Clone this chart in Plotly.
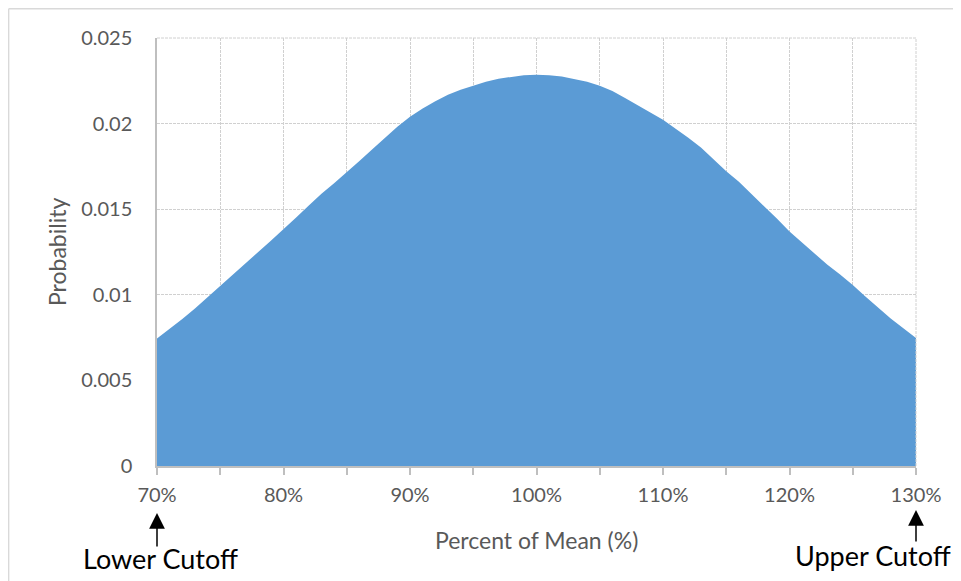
import plotly.graph_objects as go

# Data
percent_of_mean = list(range(70, 131))
probability = [
    0.00745, 0.00800, 0.00858, 0.00920, 0.00985, 0.01050, 0.01118, 0.01185, 0.01250, 0.01316,
    0.01382, 0.01452, 0.01522, 0.01590, 0.01652, 0.01715, 0.01782, 0.01848, 0.01915, 0.01982,
    0.02040, 0.02088, 0.02130, 0.02168, 0.02198, 0.02222, 0.02245, 0.02262, 0.02272, 0.02283,
    0.02285, 0.02283, 0.02275, 0.02262, 0.02245, 0.02221, 0.02190, 0.02150, 0.02110, 0.02065,
    0.02022, 0.01972, 0.01918, 0.01860, 0.01790, 0.01722, 0.01660, 0.01590, 0.01518, 0.01445,
    0.01370, 0.01305, 0.01240, 0.01175, 0.01118, 0.01057, 0.00990, 0.00925, 0.00862, 0.00805,
    0.00747,
]
x_tick_vals = list(range(70, 131, 5))
x_tick_text = [f"{v}%" if v % 10 == 0 else "" for v in x_tick_vals]
y_tick_vals = [0, 0.005, 0.01, 0.015, 0.02, 0.025]
y_tick_text = ["0", "0.005", "0.01", "0.015", "0.02", "0.025"]

FONT = "Lato, 'Open Sans', sans-serif"
GRAY_TXT = "#595959"
GRID = "#d0d0d0"
AXIS = "#bfbfbf"

fig = go.Figure()
fig.add_trace(go.Scatter(
    x=percent_of_mean, y=probability, mode="lines",
    fill="tozeroy", fillcolor="#5B9BD5",
    line=dict(width=0, color="#5B9BD5"),
    hoverinfo="x+y", showlegend=False,
))

# the page body has an 8px margin, so the figure is sized to fit inside the window
fig.update_layout(
    width=953, height=573,
    margin=dict(l=149, r=45, t=30, b=115),
    paper_bgcolor="white", plot_bgcolor="white",
    font=dict(family=FONT, color=GRAY_TXT, size=20),
    xaxis=dict(
        range=[70, 130], tickvals=x_tick_vals, ticktext=x_tick_text,
        showgrid=True, gridcolor=GRID, griddash="3px,1px", gridwidth=1,
        showline=True, linecolor=AXIS, linewidth=1.5,
        ticks="outside", ticklen=7, tickcolor=AXIS, tickwidth=1.5,
        tickfont=dict(size=20, color=GRAY_TXT), ticklabelstandoff=3,
        zeroline=False,
    ),
    yaxis=dict(
        range=[0, 0.025], tickvals=y_tick_vals, ticktext=y_tick_text,
        showgrid=True, gridcolor=GRID, griddash="3px,1px", gridwidth=1,
        showline=True, linecolor=AXIS, linewidth=1.5,
        ticks="", tickfont=dict(size=20, color=GRAY_TXT), ticklabelstandoff=19,
        zeroline=False,
    ),
)

# axis titles
fig.add_annotation(x=100, xref="x", y=0, yref="paper", yshift=-74, text="Percent of Mean (%)",
                   showarrow=False, font=dict(family=FONT, size=23, color=GRAY_TXT),
                   xanchor="center", yanchor="middle")
fig.add_annotation(x=0, xref="paper", xshift=-100, y=0.5, yref="paper", text="Probability",
                   textangle=-90, showarrow=False, font=dict(family=FONT, size=23, color=GRAY_TXT),
                   xanchor="center", yanchor="middle")

# dashed top border and right border of the plot area (grid-like)
fig.add_shape(type="line", xref="paper", yref="paper", x0=0, x1=1, y0=1, y1=1,
              line=dict(color=GRID, width=1, dash="3px,1px"))
fig.add_shape(type="line", xref="paper", yref="paper", x0=1, x1=1, y0=0, y1=1,
              line=dict(color=GRID, width=1, dash="3px,1px"))

# outer chart frame (left and top visible)
fig.add_shape(type="line", xref="paper", yref="paper", x0=-0.1955, x1=1.06, y0=1.0685, y1=1.0685,
              line=dict(color="#d9d9d9", width=1.5))
fig.add_shape(type="line", xref="paper", yref="paper", x0=-0.1955, x1=-0.1955, y0=1.0685, y1=-0.28,
              line=dict(color="#d9d9d9", width=1.5))

# cutoff arrows and labels
fig.add_annotation(x=70, xref="x", y=-0.110, yref="paper", text="", showarrow=True,
                   ax=0, ay=35, arrowhead=2, arrowsize=2.1, arrowwidth=1.5, arrowcolor="black")
fig.add_annotation(x=130, xref="x", y=-0.103, yref="paper", text="", showarrow=True,
                   ax=0, ay=33, arrowhead=2, arrowsize=2.1, arrowwidth=1.5, arrowcolor="black")
fig.add_annotation(x=70, xref="x", xshift=3, y=-0.215, yref="paper", text="Lower Cutoff",
                   showarrow=False, font=dict(family=FONT, size=27, color="black"),
                   xanchor="center", yanchor="middle")
fig.add_annotation(x=130, xref="x", xshift=-43, y=-0.210, yref="paper", text="Upper Cutoff",
                   showarrow=False, font=dict(family=FONT, size=27, color="black"),
                   xanchor="center", yanchor="middle")

fig.write_html("out.html")
